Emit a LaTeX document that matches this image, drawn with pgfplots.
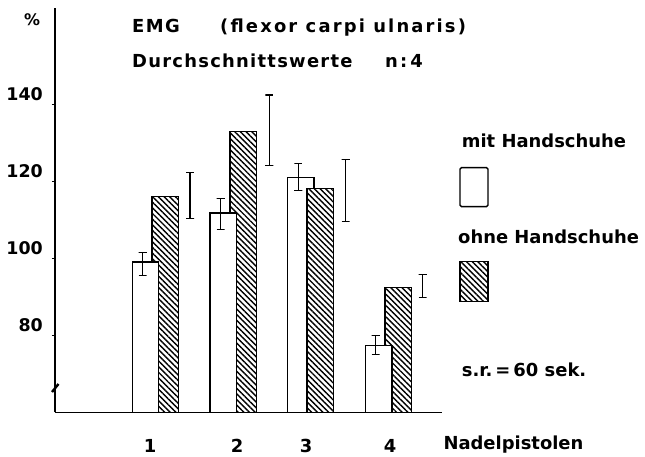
\documentclass[border=0pt]{standalone}
\usepackage{fontspec}
\setmainfont{DejaVu Sans}
\newfontfamily\widefont{DejaVu Sans}[LetterSpace=8]
\newfontfamily\widerfont{DejaVu Sans}[LetterSpace=12]
\newfontfamily\midfont{DejaVu Sans}[LetterSpace=7]
\usepackage{pgfplots}
\pgfplotsset{compat=1.18}
\usetikzlibrary{patterns.meta}
\tikzset{hatch/.style={fill=white, postaction={pattern={Lines[angle=-45, distance=4bp, line width=1.4bp]}}}}
\newcommand{\bigtxt}{\bfseries\fontsize{18}{18}\selectfont}
\begin{document}
\begin{tikzpicture}
\begin{axis}[
  scale only axis, width=387bp, height=404.25bp,
  xmin=55, xmax=442, ymin=60, ymax=165,
  axis x line=bottom, axis y line=left,
  axis line style={-, line width=1.5bp},
  clip mode=individual,
  unbounded coords=jump,
  xtick={150,237,306,390}, xticklabels={1,2,3,4},
  xtick style={draw=none},
  xticklabel style={anchor=base, inner sep=0pt, yshift=-37bp, font=\bigtxt},
  ytick={80,100,120,140},
  ytick style={line width=1.2bp, black},
  tick align=outside, major tick length=3bp,
  yticklabel style={anchor=base east, inner sep=0pt, xshift=-9bp, yshift=4bp, font=\bfseries\fontsize{17.5}{17.5}\selectfont},
  /pgf/number format/assume math mode=true,
]
% white bar of group 3 (behind hatched)
\addplot[ybar, bar width=26.5, bar shift=0pt, fill=white, draw=black, line width=1.3bp] coordinates {(300.8,120.9)};
% hatched bars (ohne Handschuhe)
\addplot[ybar, bar width=26.5, bar shift=0pt, draw=black, line width=1.5bp, hatch] coordinates {(165,116.1) (243,132.9) (320,118.1) (398,92.4)};
% white bars (mit Handschuhe) in front
\addplot[ybar, bar width=26.5, bar shift=0pt, fill=white, draw=black, line width=1.3bp] coordinates {(145.5,99.0) (223.3,111.8) (378.8,77.4)};
% error bars (low cap, stem, high cap)
\addplot[black, line width=1.1bp, mark=none] coordinates {
  (138.7,95.5) (146.7,95.5) (142.7,95.5) (142.7,101.6) (138.7,101.6) (146.7,101.6) (0,nan)
  (186,110.3) (194,110.3) (190,110.3) (190,122.3) (186,122.3) (194,122.3) (0,nan)
  (216.7,107.4) (224.7,107.4) (220.7,107.4) (220.7,115.5) (216.7,115.5) (224.7,115.5) (0,nan)
  (265.3,124.2) (273.3,124.2) (269.3,124.2) (269.3,142.4) (265.3,142.4) (273.3,142.4) (0,nan)
  (294.3,117.7) (302.3,117.7) (298.3,117.7) (298.3,124.6) (294.3,124.6) (302.3,124.6) (0,nan)
  (341.7,109.6) (349.7,109.6) (345.7,109.6) (345.7,125.6) (341.7,125.6) (349.7,125.6) (0,nan)
  (371.7,75.1) (379.7,75.1) (375.7,75.1) (375.7,80.0) (371.7,80.0) (379.7,80.0) (0,nan)
  (418.7,89.9) (426.7,89.9) (422.7,89.9) (422.7,95.9) (418.7,95.9) (426.7,95.9)
  };
% texts
\node[anchor=center, inner sep=0pt, font=\bfseries\fontsize{16}{16}\selectfont] at (axis cs:32,161.9) {\%};
\node[anchor=base west, inner sep=0pt, font=\bigtxt] at (axis cs:132,158.52) {\widefont EMG};
\node[anchor=base west, inner sep=0pt, font=\bigtxt] at (axis cs:220,158.52) {\widerfont (flexor carpi ulnaris)};
\node[anchor=base west, inner sep=0pt, font=\bigtxt] at (axis cs:132,149.43) {\midfont Durchschnittswerte};
\node[anchor=base west, inner sep=0pt, font=\bigtxt] at (axis cs:385,149.43) {\widerfont n:\,4};
\node[anchor=base west, inner sep=0pt, font=\bigtxt] at (axis cs:461.7,128.65) {mit Handschuhe};
\node[anchor=base west, inner sep=0pt, font=\bigtxt] at (axis cs:458,103.97) {ohne Handschuhe};
\node[anchor=base west, inner sep=0pt, font=\bigtxt] at (axis cs:461.7,69.25) {s.r.\,=\,60 sek.};
\node[anchor=base west, inner sep=0pt, font=\bigtxt] at (axis cs:443.3,50.21) {Nadelpistolen};
% legend swatches
\draw[line width=1.4bp, rounded corners=1.5bp, fill=white] (axis cs:460,123.53) rectangle (axis cs:488,113.4);
\draw[line width=1.4bp, hatch] (axis cs:460,99.12) rectangle (axis cs:488,88.73);
% axis break mark
\draw[line width=2.4bp] (axis cs:52,65.27) -- (axis cs:58.5,67.35);
\coordinate (bbll) at (axis cs:0,48.39);
\coordinate (bbur) at (axis cs:645,167.09);
\end{axis}
\pgfresetboundingbox
\useasboundingbox (bbll) rectangle (bbur);
\end{tikzpicture}
\end{document}
